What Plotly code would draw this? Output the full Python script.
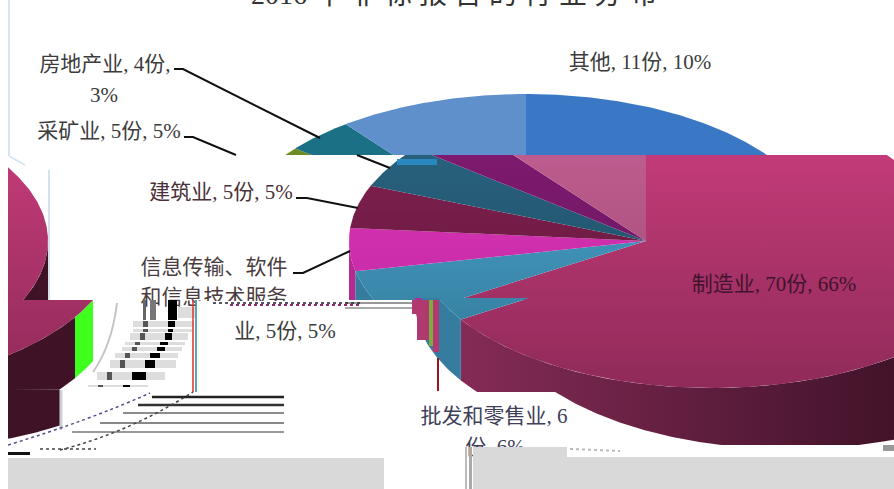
import numpy as np
import plotly.graph_objects as go

# ---------- data ----------
categories = ["制造业", "批发和零售业", "信息传输、软件和信息技术服务业", "建筑业", "采矿业", "房地产业", "其他"]
counts = [70, 6, 5, 5, 5, 4, 11]
percents = [66, 6, 5, 5, 5, 3, 10]
title_text = "2016 年 非 标 报 告 的 行 业 分 布"

# ---------- look ----------
W, H = 894, 489
RX, RY, CY, DEPTH = 297, 147, 241, 61
LEFT = 8
FONT = "Liberation Serif, Noto Sans CJK SC, serif"
top_grad = [("#c23b78", "#8f2a58"), ("#4aa2ca", "#2f7595"), ("#dc30b2", "#b82ca2"), ("#802050", "#561533"),
            ("#28607c", "#1c4a60"), ("#7d1a6e", "#65155c"), ("#bd5c8e", "#9a4670")]
side_grad = [("#842b55", "#42132a"), ("#357c9e", "#2a6a88"), ("#b02c90", "#9a2a78"), ("#5e1836", "#4a1028"),
             ("#1c4a60", "#163c50"), ("#65155c", "#50104a"), ("#9a4670", "#803a5c")]
upper_cols = ["#3a78c6", "#3a78c6", "#3a78c6", "#3a78c6", "#6f8c22", "#1c7086", "#5f90cc"]

total = sum(counts)
edges = np.concatenate([[0], np.cumsum(counts)]) / total * 360


def arc(cx, a0, a1, dy=0):
    a = np.radians(np.linspace(a0, a1, max(int(abs(a1 - a0) * 2), 2)))
    return np.column_stack([cx + RX * np.sin(a), CY + dy - RY * np.cos(a)])


def wedge(cx, a0, a1):
    return np.vstack([[[cx, CY]], arc(cx, a0, a1)])


def side(cx, a0, a1, depth=DEPTH):
    a0, a1 = max(a0, 90), min(a1, 270)
    if a1 <= a0:
        return np.empty((0, 2))
    return np.vstack([arc(cx, a0, a1), arc(cx, a1, a0, depth)])


def clip(poly, x0=LEFT, x1=W, y0=0, y1=H):
    def half(p, axis, v, keep_low):
        if len(p) == 0:
            return p
        out = []
        for i in range(len(p)):
            s, e = p[i], p[(i + 1) % len(p)]
            ins = (s[axis] <= v) if keep_low else (s[axis] >= v)
            ine = (e[axis] <= v) if keep_low else (e[axis] >= v)
            if ins:
                out.append(s)
            if ins != ine:
                t = (v - s[axis]) / (e[axis] - s[axis])
                out.append(s + t * (e - s))
        return np.array(out) if out else np.empty((0, 2))
    for axis, v, low in [(0, x0, False), (0, x1, True), (1, y0, False), (1, y1, True)]:
        poly = half(poly, axis, v, low)
    return poly


fig = go.Figure()


def paint(poly, color=None, grad=None, kind="vertical", start=None, stop=None):
    if len(poly) < 3:
        return
    kw = dict(x=poly[:, 0], y=poly[:, 1], mode="lines", line=dict(width=0), fill="toself",
              hoverinfo="skip", showlegend=False)
    if grad:
        kw["fillgradient"] = dict(type=kind, start=start, stop=stop,
                                  colorscale=[[0, grad[0]], [1, grad[1]]])
    else:
        kw["fillcolor"] = color
    fig.add_trace(go.Scatter(**kw))


def fragment(cx, y0, y1, x0=LEFT, x1=W, sides=True, tops=True, force_side=None):
    for i in range(len(counts)):
        if sides:
            p = clip(side(cx, edges[i], edges[i + 1]), x0, x1, y0, y1)
            if force_side:
                paint(p, force_side)
            else:
                paint(p, grad=side_grad[i], kind="horizontal", start=463, stop=894)
    if tops:
        for i in range(len(counts)):
            paint(clip(wedge(cx, edges[i], edges[i + 1]), x0, x1, y0, y1),
                  grad=top_grad[i], start=155, stop=390)


# upper slice of the picture, shifted left
for i in range(len(counts)):
    paint(clip(wedge(526, edges[i], edges[i + 1]), LEFT, W, 0, 155), upper_cols[i])

# main body, shifted bands
fragment(646, 155, 300)
fragment(712, 298, 392)
fragment(790, 392, 445, sides=True, tops=False)
# bands wrapped round to the left edge
DARK = "#3f1226"
fragment(646 - 895, 155, 300, force_side=DARK)
fragment(712 - 891, 300, 390, x1=75, sides=True, tops=False, force_side=DARK)
fragment(712 - 891, 300, 390, x0=75, x1=93, sides=True, tops=False, force_side="#3fff1f")
fragment(712 - 891, 300, 390, tops=True, sides=False)
fragment(790 - 891, 390, 445, x1=60, sides=True, tops=False, force_side=DARK)

# labels
labels = [f"{categories[6]}, {counts[6]}份, {percents[6]}%",
          f"{categories[5]}, {counts[5]}份,", f"{percents[5]}%",
          f"{categories[4]}, {counts[4]}份, {percents[4]}%",
          f"{categories[3]}, {counts[3]}份, {percents[3]}%",
          "信息传输、软件", "和信息技术服务", f"业, {counts[2]}份, {percents[2]}%",
          f"批发和零售业, {counts[1]}", f"份, {percents[1]}%",
          f"{categories[0]}, {counts[0]}份, {percents[0]}%"]
label_xy = [(640, 64), (105, 66), (104, 97), (109, 133), (221, 194), (214, 269), (214, 299),
            (285, 333), (494, 418), (495, 449), (774, 286)]
label_col = ["#3c3c3c"] * 4 + ["#4a3038", "#4a3c40", "#4a3c40", "#3c3c3c", "#40405a", "#40405a", "#40142c"]
for t, (x, y), c in zip(labels, label_xy, label_col):
    fig.add_trace(go.Scatter(x=[x], y=[y], mode="text", text=[t], textposition="middle center",
                             textfont=dict(family=FONT, size=21, color=c), cliponaxis=False,
                             hoverinfo="skip", showlegend=False))

# leader lines
for pts in [[(174, 69), (183, 69), (320, 138)], [(357, 155), (390, 168)],
            [(184, 137), (193, 137), (236, 155)],
            [(296, 198), (307, 198), (358, 208)], [(293, 273), (303, 273), (350, 251)]]:
    fig.add_trace(go.Scatter(x=[p[0] for p in pts], y=[p[1] for p in pts], mode="lines",
                             line=dict(color="#111111", width=2), hoverinfo="skip", showlegend=False))

# ---------- scan-glitch decoration ----------
shapes = []


def rect(x0, y0, x1, y1, c):
    shapes.append(dict(type="rect", x0=x0, x1=x1, y0=y0, y1=y1, fillcolor=c, line_width=0,
                       xref="x", yref="y", layer="above"))


def seg(x0, y0, x1, y1, c, w=1, dash="solid"):
    shapes.append(dict(type="line", x0=x0, x1=x1, y0=y0, y1=y1, line=dict(color=c, width=w, dash=dash),
                       xref="x", yref="y", layer="above"))


# frame remnant
seg(9, 0, 9, 156, "#d6e4f5", 2)
seg(9, 156, 25, 165, "#d6e4f5", 2)
# blue sliver near the top of the main body
rect(397, 159, 437, 165, "#2a88c0")
# white mask under the cut label line
rect(196, 301, 412, 318, "#ffffff")
# shredded row of colours
seg(213, 303, 360, 303, "#555566", 2, "dot")
seg(230, 305, 360, 305, "#8a2a70", 2, "dot")
seg(345, 303, 412, 303, "#333333", 1)
seg(345, 308, 412, 308, "#555555", 1)
# soft edges beside the shifted bands
seg(49, 170, 49, 300, "#d5e2ea", 2)
seg(61, 390, 61, 430, "#c9d2d2", 3)
shapes.append(dict(type="path", path="M 117 303 Q 112 345 93 372", line=dict(color="#c4c4c4", width=2),
                   xref="x", yref="y", layer="above"))
# fragments of the lower-left block
gray, black = "#dddddd", "#000000"
for y0, y1, gr, bl0, bl1 in [(321, 327, 194, 168, 175), (329, 332, 192, 168, 173), (333, 340, 188, 165, 172),
                             (342, 345, 185, 160, 168), (347, 351, 182, 157, 165), (353, 358, 178, 150, 160),
                             (360, 368, 176, 145, 155), (372, 380, 165, 132, 146), (385, 387, 148, 123, 130)]:
    rect(bl0 - 35, y0, gr, y1, gray)
    rect(bl0, y0, bl1, y1, black)
    rect(bl0 - 25, y0, bl0 - 20, y1, "#555555")
rect(178, 307, 195, 318, gray)
rect(168, 300, 177, 320, black)
rect(143, 300, 146, 320, "#666666")
rect(150, 300, 156, 320, "#777777")
seg(193, 300, 193, 392, "#e03030", 1.5)
seg(196, 300, 196, 392, "#208a90", 1.5)
# horizontal streaks
for y, x0, c, w in [(397, 152, "#222222", 2.5), (405, 138, "#333333", 2.5), (413, 123, "#666666", 1.5),
                    (423, 100, "#888888", 2), (432, 72, "#777777", 1.5)]:
    seg(x0, y, 284, y, c, w)
shapes.append(dict(type="path", path="M 8 445 Q 90 420 150 393", line=dict(color="#5a4a90", width=1.5, dash="dot"),
                   xref="x", yref="y", layer="above"))
shapes.append(dict(type="path", path="M 60 450 Q 130 432 193 392", line=dict(color="#444444", width=1.5, dash="dot"),
                   xref="x", yref="y", layer="above"))
rect(8, 452, 30, 455, "#111111")
seg(40, 449, 96, 449, "#444444", 1.5, "dot")
# fragment at the left of the lower band
rect(412, 300, 417, 314, "#b03a70")
rect(417, 300, 429, 340, "#b03a70")
rect(429, 300, 433, 346, "#7faa40")
rect(433, 300, 439, 352, "#b03a70")
seg(438, 358, 438, 391, "#991122", 2)
# grey bars at the bottom
rect(8, 458, 384, 489, "#d9d9d9")
rect(473, 457, 894, 489, "#d9d9d9")
rect(473, 447, 567, 457, "#d9d9d9")
rect(465, 447, 467, 489, "#bbbbbb")
rect(469, 447, 472, 489, "#aaaaaa")
seg(570, 449, 620, 451, "#bbbbbb", 2, "dot")
rect(883, 445, 894, 451, "#999999")

fig.add_annotation(text=title_text, xref="paper", yref="paper", x=454 / W, y=1 + 6 / H, xanchor="center",
                   yanchor="middle", showarrow=False, font=dict(family=FONT, size=28, color="#333333"))

fig.update_layout(width=W, height=H, margin=dict(l=0, r=0, t=0, b=0), paper_bgcolor="white",
                  plot_bgcolor="white", showlegend=False, shapes=shapes,
                  xaxis=dict(range=[0, W], visible=False, fixedrange=True),
                  yaxis=dict(range=[H, 0], visible=False, fixedrange=True))
fig.write_html("out.html", config=dict(displayModeBar=False),
               post_script="document.body.style.margin='0';document.documentElement.style.overflow='hidden';")
